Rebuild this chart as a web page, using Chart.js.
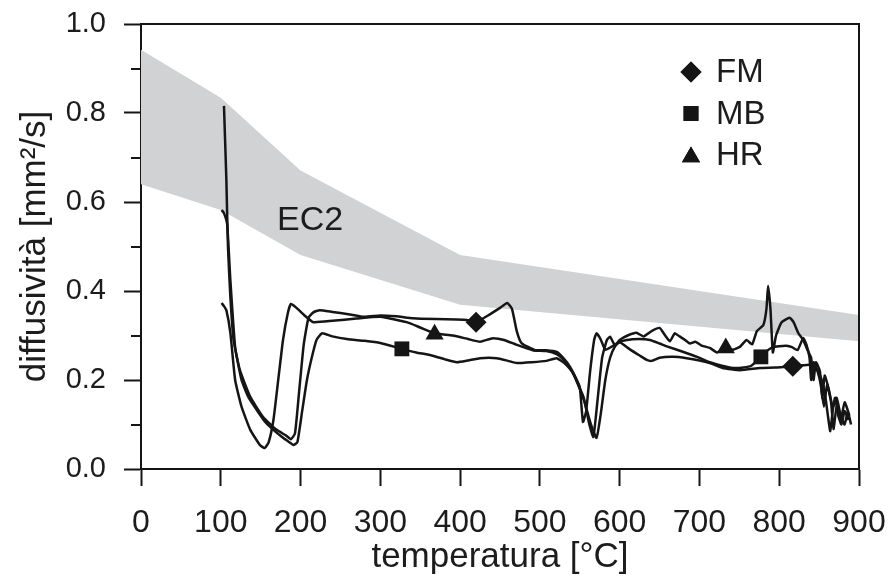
<!DOCTYPE html>
<html>
<head>
<meta charset="utf-8">
<script src="https://cdn.jsdelivr.net/npm/chart.js@4.4.1/dist/chart.umd.min.js"></script>
<style>
  html, body { margin: 0; padding: 0; background: #ffffff; }
  #wrap { width: 888px; height: 576px; }
</style>
</head>
<body>
<div id="wrap"><canvas id="c" width="888" height="576"></canvas></div>
<script>
// Axis ticks
const tempTicks = [0, 100, 200, 300, 400, 500, 600, 700, 800, 900];
const diffTicks = [0.0, 0.2, 0.4, 0.6, 0.8, 1.0];
const diffMinorTicks = [0.1, 0.3, 0.5, 0.7, 0.9];

// EC2 band (upper and lower limits)
const ec2Temp  = [0, 100, 200, 400, 900];
const ec2Upper = [0.942, 0.834, 0.671, 0.481, 0.346];
const ec2Lower = [0.640, 0.582, 0.481, 0.369, 0.287];

// FM curve
const fmTemp = [104, 107, 109, 112, 116, 124, 137, 153, 170, 182, 188, 193, 198, 204, 210, 216, 224, 240, 260, 280, 300, 320, 341, 370, 395, 408, 420, 435, 450, 459, 465, 471, 477, 494, 508, 521, 530, 538, 545, 550, 554, 558, 563, 568, 571, 576, 582, 590, 600, 612, 625, 634, 640, 650, 667, 684, 700, 713, 729, 751, 776, 795, 817, 830, 838, 845, 850, 855, 858, 861, 864, 867, 870, 874, 878, 882, 887];
const fmDiff = [0.816, 0.65, 0.50, 0.387, 0.29, 0.222, 0.162, 0.117, 0.088, 0.075, 0.067, 0.08, 0.17, 0.28, 0.34, 0.352, 0.357, 0.353, 0.348, 0.342, 0.345, 0.343, 0.339, 0.337, 0.336, 0.335, 0.330, 0.345, 0.362, 0.373, 0.36, 0.31, 0.283, 0.267, 0.267, 0.263, 0.248, 0.229, 0.205, 0.184, 0.106, 0.13, 0.22, 0.29, 0.305, 0.292, 0.268, 0.275, 0.285, 0.27, 0.255, 0.245, 0.243, 0.25, 0.252, 0.249, 0.244, 0.238, 0.227, 0.222, 0.227, 0.228, 0.231, 0.233, 0.234, 0.228, 0.215, 0.19, 0.16, 0.12, 0.085, 0.13, 0.16, 0.12, 0.10, 0.13, 0.11];

// MB curve
const mbTemp = [101, 104, 108, 112, 118, 126, 135, 145, 156, 166, 178, 186, 191, 196, 202, 208, 214, 220, 227, 240, 258, 280, 300, 327, 345, 362, 380, 396, 410, 425, 446, 460, 471, 490, 508, 521, 532, 542, 550, 556, 564, 571, 576, 582, 588, 594, 600, 609, 624, 638, 650, 660, 680, 697, 713, 728, 742, 755, 765, 777, 785, 792, 800, 809, 816, 823, 830, 834, 838, 840, 843, 848, 852, 856, 860, 865, 868, 872, 877, 882, 888];
const mbDiff = [0.582, 0.575, 0.55, 0.425, 0.274, 0.2, 0.16, 0.133, 0.105, 0.088, 0.07, 0.06, 0.054, 0.06, 0.13, 0.2, 0.25, 0.29, 0.305, 0.298, 0.292, 0.288, 0.283, 0.27, 0.262, 0.256, 0.247, 0.24, 0.244, 0.249, 0.249, 0.243, 0.238, 0.24, 0.243, 0.249, 0.236, 0.215, 0.18, 0.15, 0.1, 0.07, 0.12, 0.2, 0.25, 0.275, 0.285, 0.29, 0.292, 0.29, 0.282, 0.275, 0.263, 0.252, 0.24, 0.232, 0.227, 0.228, 0.232, 0.252, 0.266, 0.274, 0.276, 0.277, 0.274, 0.267, 0.294, 0.28, 0.25, 0.20, 0.24, 0.22, 0.19, 0.14, 0.19, 0.15, 0.09, 0.14, 0.11, 0.15, 0.12];

// HR curve
const hrTemp = [101, 104, 107, 112, 118, 126, 137, 149, 155, 160, 166, 172, 178, 184, 188, 195, 205, 216, 240, 270, 300, 333, 350, 368, 391, 410, 425, 441, 455, 471, 491, 508, 521, 530, 540, 548, 555, 562, 567, 572, 578, 584, 588, 594, 600, 610, 621, 630, 640, 650, 657, 663, 669, 675, 682, 688, 695, 702, 713, 722, 733, 742, 751, 759, 766, 772, 780, 784, 786, 789, 792, 796, 803, 813, 818, 824, 830, 836, 840, 843, 846, 851, 854, 857, 862, 867, 872, 877, 882, 886, 890];
const hrDiff = [0.373, 0.366, 0.357, 0.306, 0.2, 0.14, 0.088, 0.054, 0.047, 0.06, 0.11, 0.2, 0.29, 0.35, 0.371, 0.362, 0.345, 0.33, 0.333, 0.338, 0.342, 0.33, 0.318, 0.305, 0.300, 0.292, 0.286, 0.294, 0.29, 0.279, 0.267, 0.265, 0.258, 0.245, 0.22, 0.19, 0.16, 0.1, 0.072, 0.15, 0.25, 0.29, 0.297, 0.278, 0.29, 0.3, 0.306, 0.298, 0.31, 0.317, 0.3, 0.287, 0.305, 0.298, 0.29, 0.282, 0.286, 0.278, 0.272, 0.262, 0.272, 0.268, 0.275, 0.29, 0.28, 0.31, 0.323, 0.36, 0.411, 0.36, 0.262, 0.30, 0.33, 0.34, 0.33, 0.305, 0.29, 0.265, 0.25, 0.20, 0.24, 0.22, 0.16, 0.21, 0.18, 0.14, 0.16, 0.12, 0.10, 0.13, 0.10];

// Marker positions on each curve
const fmMarkTemp = [420, 817];
const fmMarkDiff = [0.330, 0.231];
const mbMarkTemp = [327, 777];
const mbMarkDiff = [0.270, 0.252];
const hrMarkTemp = [368, 733];
const hrMarkDiff = [0.303, 0.272];

const toPoints = (xs, ys) => xs.map((x, i) => ({ x: x, y: ys[i] }));

const INK = '#151515';
const BAND = '#d1d2d4';
const FONT = '"Liberation Sans", Arial, Helvetica, sans-serif';

function curve(label, xs, ys) {
  return {
    label: label, data: toPoints(xs, ys), showLine: true,
    borderColor: INK, borderWidth: 2.5, pointRadius: 0, tension: 0.15,
    fill: false, order: 2
  };
}
function markers(label, style, xs, ys) {
  return {
    label: label, data: toPoints(xs, ys), showLine: false,
    pointStyle: style, pointRadius: 10.5, pointHoverRadius: 10.5,
    backgroundColor: INK, borderColor: INK, borderWidth: 0, order: 1
  };
}

// keep tick-label overflow from pushing the plot area inwards
function noOverflow(s) {
  s.paddingTop = 0; s.paddingBottom = 0; s.paddingLeft = 0; s.paddingRight = 0;
}

// Minor ticks on the y axis, top/right frame, EC2 label and legend
const decorations = {
  id: 'decorations',
  afterDraw(chart) {
    const { ctx, chartArea: a, scales: { x, y } } = chart;
    ctx.save();
    ctx.strokeStyle = INK;
    ctx.lineWidth = 2;
    ctx.beginPath();
    diffMinorTicks.forEach(v => {
      const py = Math.round(y.getPixelForValue(v));
      ctx.moveTo(a.left - 10, py);
      ctx.lineTo(a.left, py);
    });
    ctx.moveTo(a.left, a.top);
    ctx.lineTo(a.right, a.top);
    ctx.lineTo(a.right, a.bottom);
    ctx.stroke();

    ctx.fillStyle = '#1c1c1c';
    ctx.font = '34px ' + FONT;
    ctx.textAlign = 'center';
    ctx.textBaseline = 'middle';
    ctx.fillText('EC2', x.getPixelForValue(212), y.getPixelForValue(0.558));

    // legend
    const items = chart.data.datasets.filter(d => d.pointStyle);
    const lx = 691, ly0 = 72, step = 41.5;
    ctx.font = '33px ' + FONT;
    ctx.textAlign = 'left';
    items.forEach((d, i) => {
      const cy = ly0 + i * step;
      ctx.fillStyle = INK;
      Chart.helpers.drawPoint(ctx, { pointStyle: d.pointStyle, radius: 10.5, borderWidth: 0 }, lx, cy + (d.pointStyle === 'triangle' ? 2 : 0));
      ctx.fill();
      ctx.fillStyle = '#1c1c1c';
      ctx.fillText(d.label, 716, cy + 1);
    });
    ctx.restore();
  }
};

new Chart(document.getElementById('c'), {
  type: 'scatter',
  data: {
    datasets: [
      markers('FM', 'rectRot', fmMarkTemp, fmMarkDiff),
      markers('MB', 'rect', mbMarkTemp, mbMarkDiff),
      markers('HR', 'triangle', hrMarkTemp, hrMarkDiff),
      curve('FM curve', fmTemp, fmDiff),
      curve('MB curve', mbTemp, mbDiff),
      curve('HR curve', hrTemp, hrDiff),
      {
        label: 'EC2 sup', data: toPoints(ec2Temp, ec2Upper), showLine: true,
        borderWidth: 0, borderColor: BAND, backgroundColor: BAND, pointRadius: 0,
        fill: '+1', order: 5
      },
      {
        label: 'EC2 inf', data: toPoints(ec2Temp, ec2Lower), showLine: true,
        borderWidth: 0, borderColor: BAND, backgroundColor: BAND, pointRadius: 0,
        fill: false, order: 6
      }
    ]
  },
  options: {
    responsive: false,
    animation: false,
    devicePixelRatio: 1,
    layout: { padding: { top: 24, right: 29, left: 0, bottom: 0 } },
    plugins: { legend: { display: false }, tooltip: { enabled: false } },
    scales: {
      x: {
        type: 'linear', min: 0, max: 900,
        afterBuildTicks: s => { s.ticks = tempTicks.map(v => ({ value: v })); },
        afterFit: s => { s.height = 107; noOverflow(s); },
        ticks: { color: '#1c1c1c', font: { family: FONT, size: 32 }, padding: 18, maxRotation: 0, autoSkip: false },
        grid: { drawOnChartArea: false, drawTicks: true, tickLength: 17, tickWidth: 2, tickColor: INK },
        border: { display: true, color: INK, width: 2 },
        title: { display: true, text: 'temperatura [°C]', color: '#1c1c1c',
                 font: { family: FONT, size: 35, lineHeight: 1 }, padding: { top: 0, bottom: 1.5 } }
      },
      y: {
        type: 'linear', min: 0, max: 1,
        afterBuildTicks: s => { s.ticks = diffTicks.map(v => ({ value: v })); },
        afterFit: s => { s.width = 141; noOverflow(s); },
        ticks: { color: '#1c1c1c', font: { family: FONT, size: 29 }, padding: 18,
                 callback: v => v.toFixed(1) },
        grid: { drawOnChartArea: false, drawTicks: true, tickLength: 17, tickWidth: 2, tickColor: INK },
        border: { display: true, color: INK, width: 2 },
        title: { display: true, text: 'diffusività [mm²/s]', color: '#1c1c1c',
                 font: { family: FONT, size: 35, lineHeight: 1 }, padding: { top: 17.5, bottom: 0 } }
      }
    }
  },
  plugins: [decorations]
});
</script>
</body>
</html>
